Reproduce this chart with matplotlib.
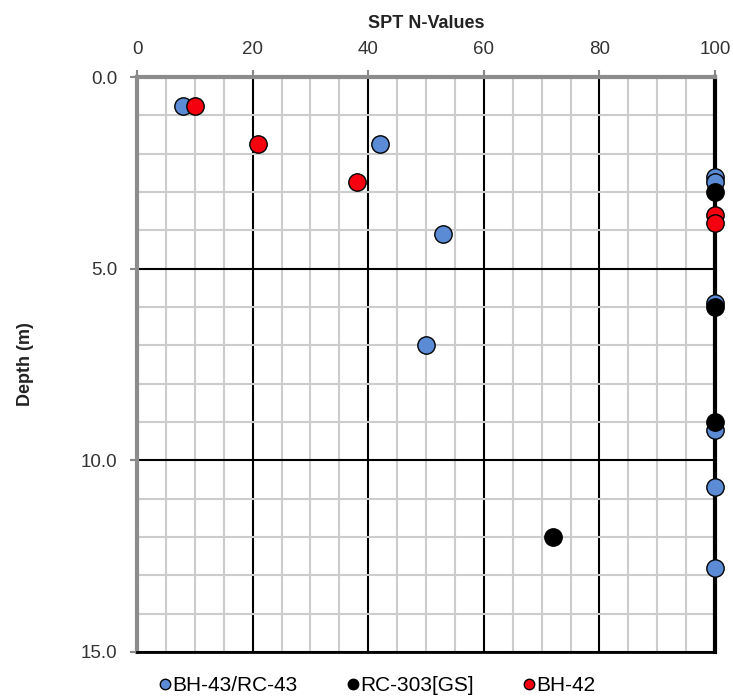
import matplotlib.pyplot as plt
from matplotlib.ticker import MultipleLocator

plt.rcParams['font.family'] = ['Liberation Sans', 'DejaVu Sans']

# SPT N-values (x) vs depth in m (y)
bh43_n = [8, 42, 100, 100, 53, 100, 50, 100, 100, 100]
bh43_depth = [0.75, 1.75, 2.6, 2.75, 4.1, 5.9, 7.0, 9.2, 10.7, 12.8]

rc303_n = [100, 100, 100, 72]
rc303_depth = [3.0, 6.0, 9.0, 12.0]

bh42_n = [10, 21, 38, 100, 100]
bh42_depth = [0.75, 1.75, 2.75, 3.6, 3.8]

fig = plt.figure(figsize=(7.33, 7.0), dpi=100)
ax = fig.add_axes([0.187, 0.0686, 0.7885, 0.8214])

ms = 12.5
ax.plot(bh43_n, bh43_depth, 'o', color='#5B8BD5', mec='black', mew=1.0, ms=ms,
        label='BH-43/RC-43', zorder=3, clip_on=False)
ax.plot(rc303_n, rc303_depth, 'o', color='black', mec='black', mew=1.0, ms=ms,
        label='RC-303[GS]', zorder=4, clip_on=False)
ax.plot(bh42_n, bh42_depth, 'o', color='#F5000F', mec='black', mew=1.0, ms=ms,
        label='BH-42', zorder=5, clip_on=False)

ax.set_xlim(0, 100)
ax.set_ylim(15, 0)

ax.xaxis.set_major_locator(MultipleLocator(20))
ax.xaxis.set_minor_locator(MultipleLocator(5))
ax.yaxis.set_major_locator(MultipleLocator(5))
ax.yaxis.set_minor_locator(MultipleLocator(1))
ax.set_yticks([0, 5, 10, 15], ['0.0', '5.0', '10.0', '15.0'])

ax.grid(which='minor', color='#cccccc', lw=1.5, zorder=0)
ax.grid(which='major', color='black', lw=1.5, zorder=1)

ax.xaxis.tick_top()
ax.xaxis.set_label_position('top')
ax.tick_params(which='major', direction='out', length=5, width=1.5,
               color='#888888', labelsize=13.5, labelcolor='#333333')
ax.tick_params(axis='x', pad=9)
ax.tick_params(axis='y', pad=9)
ax.tick_params(which='minor', length=0)

for side in ['left', 'top']:
    ax.spines[side].set_color('#8c8c8c')
    ax.spines[side].set_linewidth(3)
ax.spines['right'].set_color('black')
ax.spines['right'].set_linewidth(3)
ax.spines['bottom'].set_color('black')
ax.spines['bottom'].set_linewidth(2)

ax.set_xlabel('SPT N-Values', fontweight='bold', fontsize=13, labelpad=9,
              color='#222222')
ax.set_ylabel('Depth (m)', fontweight='bold', fontsize=13, labelpad=34,
              color='#222222')

fig.legend(loc='lower center', bbox_to_anchor=(0.515, -0.02), ncol=3, frameon=False,
           fontsize=15, markerscale=0.6, handlelength=0.5, handletextpad=0.1,
           columnspacing=2.4)

plt.savefig('out.png', dpi=100)
